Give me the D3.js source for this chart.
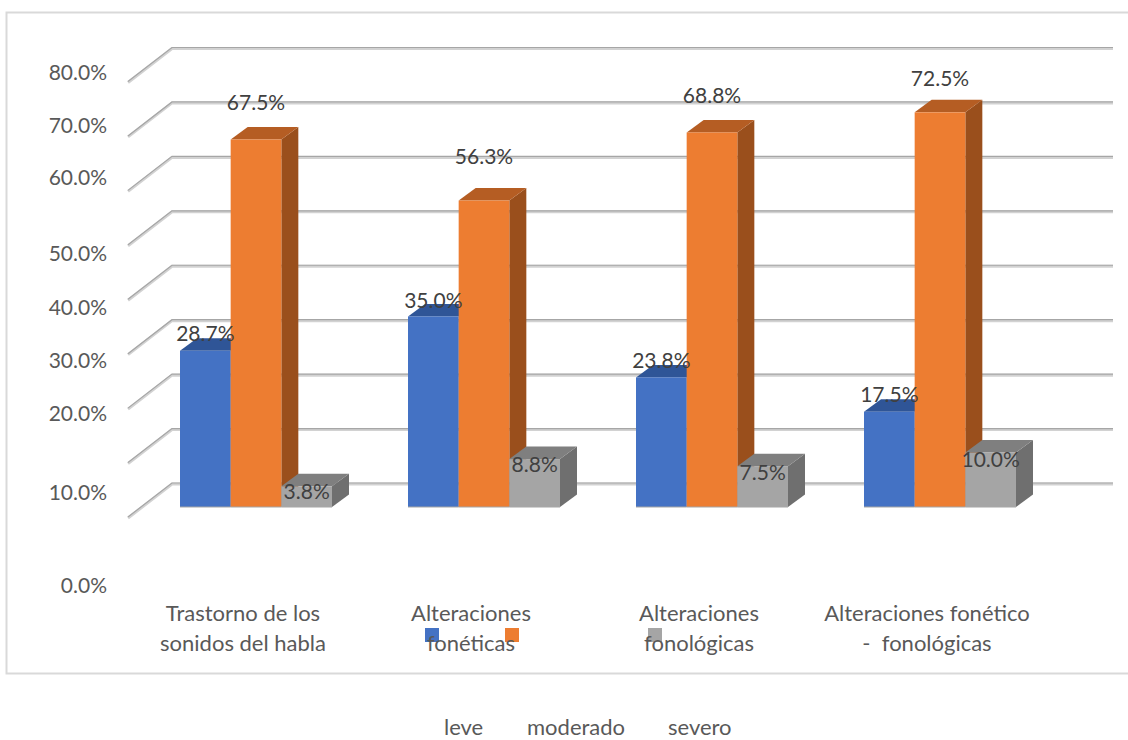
<!DOCTYPE HTML>
<html>
  <head>
    <script src="https://d3js.org/d3.v7.min.js"></script>
    <style>
      body, html {
        margin: 0;
        background: #fff;
        font-family: 'Lato', sans-serif;
      }
      svg { display: block; }
      .tick-label text { fill: #595959; font-size: 21px; }
      .cat text { fill: #595959; font-size: 22px; white-space: pre; }
      .value { fill: #404040; font-size: 21px; text-anchor: middle; }
      .legend-text { fill: #595959; font-size: 22px; }
    </style>
  </head>
  <body>
    <div id="chart"></div>
    <script>
      var categories = ["Trastorno de los sonidos del habla", "Alteraciones fonéticas", "Alteraciones fonológicas", "Alteraciones fonético - fonológicas"];
      var categoryLines = [["Trastorno de los", "sonidos del habla"], ["Alteraciones", "fonéticas"], ["Alteraciones", "fonológicas"], ["Alteraciones fonético", "-  fonológicas"]];
      var seriesNames = ["leve", "moderado", "severo"];
      var leve = [28.7, 35.0, 23.8, 17.5];
      var moderado = [67.5, 56.3, 68.8, 72.5];
      var severo = [3.8, 8.8, 7.5, 10.0];
      var tickValues = [0, 10, 20, 30, 40, 50, 60, 70, 80];

      // the reference spaces its axis labels unevenly, so they get their own scale
      var tickLabelY = [586, 493, 414, 361, 308, 254, 178, 126, 73];

      var colors = ["#4472c4", "#ed7d31", "#a5a5a5"];
      var topColors = ["#2f5597", "#b55d23", "#7f7f7f"];
      var sideColors = ["#2b4f8f", "#9a4f1c", "#6f6f6f"];
      var labelShift = [[-17, -16, -17, -17], [-37, -44, -37, -34], [5, 6, 6, 7]];
      var depth = { x: 17, y: 12.5 };
      var wall = { x: 44, y: 34 };

      var values = [leve, moderado, severo];
      var width = 1128, height = 740;
      var svg = d3.select("#chart").append("svg")
        .attr("width", width)
        .attr("height", height);

      svg.append("rect")
        .attr("x", 6.5).attr("y", 12.5)
        .attr("width", 1140).attr("height", 661)
        .attr("fill", "#fff")
        .attr("stroke", "#d9d9d9")
        .attr("stroke-width", 2);

      // y is the front plane of the bars
      var y = d3.scaleLinear().domain([0, 80]).range([507, 71.5]);
      var x0 = d3.scaleBand().domain(categories).range([142, 1054]);
      var x1 = d3.scaleBand().domain(seriesNames).range([38, 190]);
      var backY = v => y(v) - 24;

      var grid = svg.append("g").selectAll("g")
        .data(tickValues)
        .enter()
        .append("g");
      grid.append("path")
        .attr("d", d => `M${128},${backY(d) + wall.y}L172,${backY(d)}L1113,${backY(d)}`)
        .attr("fill", "none")
        .attr("stroke", "#d2d2d2")
        .attr("stroke-width", 3)
        .attr("transform", "translate(0,1)");
      grid.append("path")
        .attr("d", d => `M${128},${backY(d) + wall.y}L172,${backY(d)}L1113,${backY(d)}`)
        .attr("fill", "none")
        .attr("stroke", "#a6a6a6")
        .attr("stroke-width", 1.2);

      var labelScale = d3.scaleLinear().domain(tickValues).range(tickLabelY);
      var axis = svg.append("g")
        .attr("class", "tick-label")
        .attr("transform", "translate(107,0)")
        .call(d3.axisLeft(labelScale).tickValues(tickValues).tickSize(0).tickPadding(0).tickFormat(d => d.toFixed(1) + "%"));
      axis.select(".domain").remove();
      axis.selectAll("text").style("font-family", "Lato, sans-serif");

      var groups = svg.append("g").selectAll("g")
        .data(categories)
        .enter()
        .append("g")
        .attr("transform", d => `translate(${x0(d)},0)`);

      // draw the back bars' sides first so the next bar in the group covers them
      seriesNames.forEach(function (name, s) {
        var bars = groups.append("g");
        var w = x1.bandwidth();
        var left = x1(name);
        var val = (d, i) => values[s][i];

        bars.append("path")
          .attr("d", (d, i) => `M${left + w},${y(val(d, i))}l${depth.x},${-depth.y}L${left + w + depth.x},${y(0) - depth.y}L${left + w},${y(0)}Z`)
          .attr("fill", sideColors[s]);
        bars.append("path")
          .attr("d", (d, i) => `M${left},${y(val(d, i))}l${depth.x},${-depth.y}h${w}l${-depth.x},${depth.y}Z`)
          .attr("fill", topColors[s]);
        bars.append("rect")
          .attr("x", left)
          .attr("y", (d, i) => y(val(d, i)))
          .attr("width", w)
          .attr("height", (d, i) => y(0) - y(val(d, i)))
          .attr("fill", colors[s]);
        bars.append("line")
          .attr("x1", left).attr("x2", left + w)
          .attr("y1", y(0)).attr("y2", y(0))
          .attr("stroke", "#a6a6a6");
      });

      seriesNames.forEach(function (name, s) {
        groups.append("text")
          .attr("class", "value")
          .attr("x", x1(name) + x1.bandwidth() / 2)
          .attr("y", (d, i) => y(values[s][i]) + labelShift[s][i])
          .attr("dy", "0.35em")
          .text((d, i) => values[s][i].toFixed(1) + "%");
      });

      // swatches go under the category labels, which run across them
      var legendX = d3.scaleOrdinal().domain(seriesNames).range([425, 505, 648]);
      var legendTextX = d3.scaleOrdinal().domain(seriesNames).range([444, 527, 668]);
      svg.append("g").selectAll("rect")
        .data(seriesNames)
        .enter()
        .append("rect")
        .attr("x", d => legendX(d))
        .attr("y", 628)
        .attr("width", 14)
        .attr("height", 14)
        .attr("fill", (d, i) => colors[i]);
      svg.append("g").selectAll("text")
        .data(seriesNames)
        .enter()
        .append("text")
        .attr("class", "legend-text")
        .attr("x", d => legendTextX(d))
        .attr("y", 735)
        .text(d => d);

      var cats = svg.append("g").attr("class", "cat").selectAll("text")
        .data(categories)
        .enter()
        .append("text")
        .attr("text-anchor", "middle");
      cats.selectAll("tspan")
        .data((d, i) => categoryLines[i].map(t => ({ t: t, c: d })))
        .enter()
        .append("tspan")
        .attr("x", d => x0(d.c) + x0.bandwidth() / 2 - 13)
        .attr("y", (d, i) => 621 + i * 30)
        .text(d => d.t);
    </script>
  </body>
</html>
